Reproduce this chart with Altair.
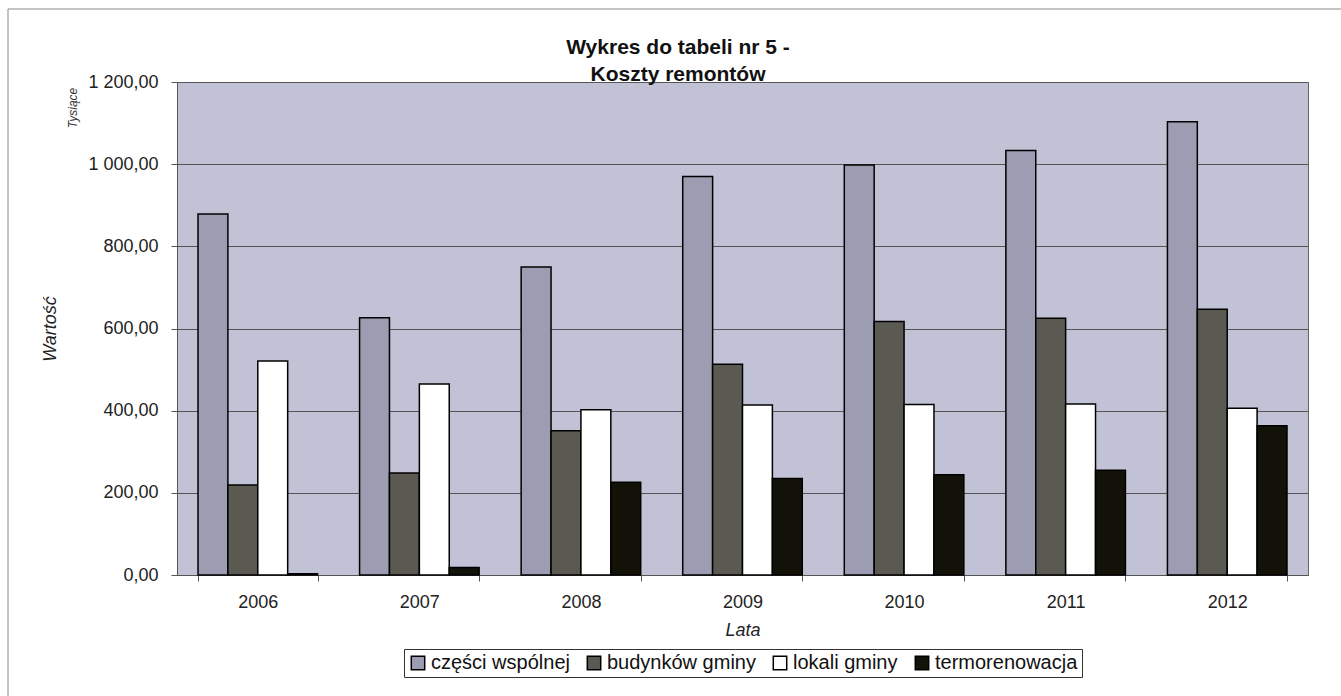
import altair as alt
import pandas as pd

years = ["2006", "2007", "2008", "2009", "2010", "2011", "2012"]
series = ["części wspólnej", "budynków gminy", "lokali gminy", "termorenowacja"]
czesci_wspolnej = [879, 626, 750, 970, 998, 1033, 1103]
budynkow_gminy = [219, 248, 351, 513, 617, 625, 647]
lokali_gminy = [521, 465, 402, 414, 415, 416, 406]
termorenowacja = [3, 18, 226, 235, 244, 255, 363]
colors = ["#9c9cb2", "#5a5a52", "#ffffff", "#121208"]
y_ticks = [0, 200, 400, 600, 800, 1000, 1200]
title_line1 = "Wykres do tabeli nr 5 -"
title_line2 = "Koszty remontów"

values = [czesci_wspolnej, budynkow_gminy, lokali_gminy, termorenowacja]
rows = []
for s, vals in zip(series, values):
    for yr, v in zip(years, vals):
        rows.append({"Rok": yr, "Seria": s, "Wartosc": v})
df = pd.DataFrame(rows)

FONT = "Liberation Sans"
W, H = 1131, 493
PL, PT = 177, 82

bars = alt.Chart(df).mark_bar(stroke="black", strokeWidth=1.5).encode(
    x=alt.X("Rok:N", sort=years,
            scale=alt.Scale(paddingInner=0.26, paddingOuter=0.13),
            axis=alt.Axis(title="Lata", labelAngle=0, tickBand="extent",
                          labelFontSize=18, labelPadding=12, tickSize=6,
                          tickColor="#555", domainColor="#555",
                          titleFontSize=18, titleFontStyle="italic",
                          titleFontWeight="normal", titlePadding=10,
                          labelColor="#222", titleColor="#222")),
    xOffset=alt.XOffset("Seria:N", sort=series, scale=alt.Scale(paddingInner=0)),
    y=alt.Y("Wartosc:Q", scale=alt.Scale(domain=[0, 1200], nice=False),
            axis=alt.Axis(title="Wartość", values=y_ticks,
                          labelExpr="replace(replace(format(datum.value, ',.2f'), ',', ' '), '.', ',')",
                          labelFontSize=18, labelPadding=13, tickSize=6,
                          tickColor="#555", domainColor="#555",
                          gridColor="#555", gridWidth=1,
                          titleFontSize=18, titleFontStyle="italic",
                          titleFontWeight="normal", titlePadding=28,
                          labelColor="#222", titleColor="#222")),
    color=alt.Color("Seria:N", sort=series,
                    scale=alt.Scale(domain=series, range=colors),
                    legend=alt.Legend(title=None, orient="none", direction="horizontal",
                                      legendX=227, legendY=567,
                                      symbolType="square", symbolSize=180,
                                      symbolStrokeColor="black", symbolStrokeWidth=1.5,
                                      symbolOpacity=1,
                                      labelFontSize=20, labelColor="#111",
                                      columnPadding=14, labelOffset=3,
                                      strokeColor="#333", padding=4)),
)

tysiace = alt.Chart(pd.DataFrame({"t": ["Tysiące"]})).mark_text(
    angle=270, fontSize=12, fontStyle="italic", font=FONT, color="#333"
).encode(text="t:N", x=alt.value(73 - PL), y=alt.value(108 - PT))

title1 = alt.Chart(pd.DataFrame({"t": [title_line1]})).mark_text(
    fontSize=21, fontWeight="bold", font=FONT, color="#111", baseline="middle"
).encode(text="t:N", x=alt.value(678 - PL), y=alt.value(48 - PT))
title2 = alt.Chart(pd.DataFrame({"t": [title_line2]})).mark_text(
    fontSize=21, fontWeight="bold", font=FONT, color="#111", baseline="middle"
).encode(text="t:N", x=alt.value(678 - PL), y=alt.value(75 - PT))

frame_left = alt.Chart(pd.DataFrame({"a": [0]})).mark_rule(color="#888", strokeWidth=1).encode(
    x=alt.value(8 - PL), y=alt.value(9 - PT), y2=alt.value(696 - PT))
frame_top = alt.Chart(pd.DataFrame({"a": [0]})).mark_rule(color="#888", strokeWidth=1).encode(
    x=alt.value(8 - PL), x2=alt.value(1341 - PL), y=alt.value(9 - PT))

chart = alt.layer(bars, tysiace, title1, title2, frame_left, frame_top).properties(
    width=W, height=H,
    autosize=alt.AutoSizeParams(type="none"),
    padding={"left": PL, "top": PT, "right": 1341 - PL - W, "bottom": 696 - PT - H},
).configure(font=FONT, background="white").configure_view(
    fill="#c2c2d6", stroke="#666", strokeWidth=1
).configure_axis(labelFont=FONT, titleFont=FONT).configure_legend(labelFont=FONT)

chart.save("out.html", embed_options={"renderer": "svg", "actions": False})
